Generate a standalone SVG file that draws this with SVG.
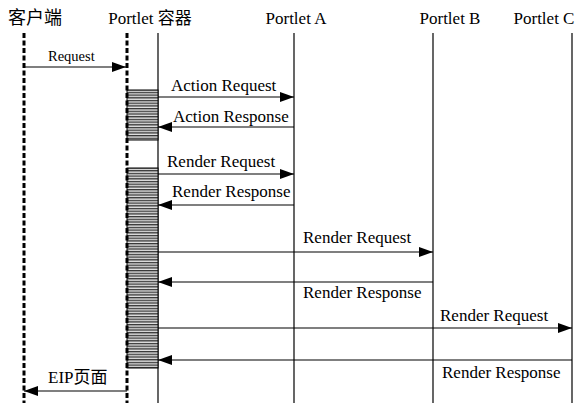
<svg xmlns="http://www.w3.org/2000/svg" width="581" height="403" viewBox="0 0 581 403">
<style>
.t{font-family:"Liberation Serif","Noto Sans CJK SC",serif;font-size:17px;fill:#000}
.h{font-family:"Liberation Serif","Noto Sans CJK SC",serif;font-size:17px;fill:#000}
.cjk{font-family:"Noto Sans CJK SC",sans-serif;font-size:18px;fill:#000}
.s{font-family:"Liberation Serif",serif;font-size:14.5px;fill:#000}
.dash{stroke:#000;stroke-width:3;stroke-dasharray:5 2.5;fill:none}
.life{stroke:#000;stroke-width:1.2;fill:none}
.msg{stroke:#000;stroke-width:1.2;fill:none}
.r{marker-end:url(#ah)}
.box{fill:url(#hatch);stroke:#000;stroke-width:1}
</style>
<defs>
<marker id="ah" markerWidth="14" markerHeight="10" refX="14" refY="5" orient="auto" markerUnits="userSpaceOnUse">
<path d="M0,0 L14,5 L0,10 Z" fill="#000"/>
</marker>
<pattern id="hatch" width="31" height="2.7" patternUnits="userSpaceOnUse">
<rect width="31" height="2.7" fill="#e4e4e4"/>
<line x1="0" y1="0.7" x2="31" y2="0.7" stroke="#111" stroke-width="1.1"/>
</pattern>
</defs>
<g id="client">
<text class="cjk" x="35" y="24" text-anchor="middle">客户端</text>
<line class="dash" x1="24" y1="33" x2="24" y2="403"/>
</g>
<g id="container">
<text class="h" x="150" y="24" text-anchor="middle">Portlet 容器</text>
<line class="life" x1="158" y1="33" x2="158" y2="403"/>
<rect class="box" x="127" y="90" width="31" height="50"/>
<rect class="box" x="127" y="168" width="31" height="200"/>
<line class="dash" x1="127" y1="33" x2="127" y2="403"/>
</g>
<g id="portletA">
<text class="h" x="296" y="24" text-anchor="middle">Portlet A</text>
<line class="life" x1="294" y1="33" x2="294" y2="403"/>
</g>
<g id="portletB">
<text class="h" x="450" y="24" text-anchor="middle">Portlet B</text>
<line class="life" x1="433" y1="33" x2="433" y2="403"/>
</g>
<g id="portletC">
<text class="h" x="544" y="24" text-anchor="middle">Portlet C</text>
<line class="life" x1="572" y1="33" x2="572" y2="403"/>
</g>
<g id="connectors">
<line class="msg r" x1="24" y1="67" x2="126" y2="67"/>
<line class="msg r" x1="158" y1="97" x2="294" y2="97"/>
<line class="msg r" x1="294" y1="127" x2="158" y2="127"/>
<line class="msg r" x1="158" y1="174" x2="294" y2="174"/>
<line class="msg r" x1="294" y1="205" x2="158" y2="205"/>
<line class="msg r" x1="158" y1="252" x2="433" y2="252"/>
<line class="msg r" x1="433" y1="282" x2="158" y2="282"/>
<line class="msg r" x1="158" y1="328" x2="572" y2="328"/>
<line class="msg r" x1="572" y1="360" x2="158" y2="360"/>
<line class="msg r" x1="127" y1="391" x2="24" y2="391"/>
<text class="s" x="48" y="61">Request</text>
<text class="t" x="171" y="91">Action Request</text>
<text class="t" x="173" y="122">Action Response</text>
<text class="t" x="167" y="167">Render Request</text>
<text class="t" x="172" y="197">Render Response</text>
<text class="t" x="303" y="243">Render Request</text>
<text class="t" x="303" y="298">Render Response</text>
<text class="t" x="440" y="321">Render Request</text>
<text class="t" x="442" y="378">Render Response</text>
<text class="t" x="48" y="383">EIP页面</text>
</g>
</svg>
